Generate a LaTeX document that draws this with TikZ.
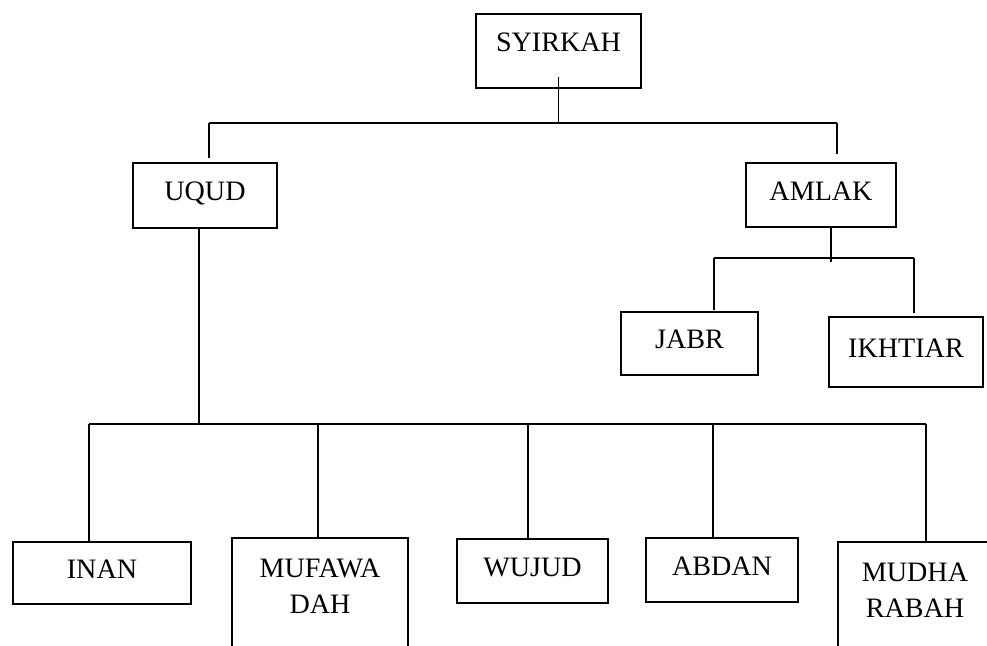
\documentclass[tikz,border=0pt]{standalone}
\usepackage{fontspec}
\setmainfont{Liberation Serif}
\usepackage{tikz}
\usetikzlibrary{positioning}

\begin{document}
\begin{tikzpicture}[
  box/.style={draw, line width=2.1pt, inner sep=2pt, outer sep=0pt, text depth=0.2cm, font=\fontsize{20pt}{25.5pt}\selectfont},
  tallbox/.style={box, align=center, inner ysep=0.525cm, text depth=1.5cm},
  link/.style={line width=0.75pt},
  stem/.style={line width=1.9pt},
]
  \clip (0,0) rectangle (24.675,-16.15);

  % Top: root
  \node[box, minimum width=4.125cm, minimum height=1.85cm, text depth=0.45cm] (syirkah) at (13.9625,-1.275) {SYIRKAH};

  % Layer 1
  \node[box, below left=1.875cm and 4.975cm of syirkah, minimum width=3.6cm, minimum height=1.625cm] (uqud) {UQUD};
  \node[box, below right=1.875cm and 2.625cm of syirkah, minimum width=3.75cm, minimum height=1.6cm] (amlak) {AMLAK};

  % Layer 2: under amlak
  \node[box, below left=2.125cm and 1.575cm of amlak.south, minimum width=3.425cm, minimum height=1.575cm] (jabr) {JABR};
  \node[box, below right=2.25cm and 0.2cm of amlak.south, minimum width=3.85cm, minimum height=1.75cm] (ikhtiar) {IKHTIAR};

  % Layer 2: under uqud
  \node[box, anchor=north, minimum width=4.45cm, minimum height=1.55cm] (inan) at (2.55,-13.55) {INAN};
  \node[tallbox, anchor=north, minimum width=4.4cm] (mufa) at (8.0,-13.45) {MUFAWA\\DAH};
  \node[box, anchor=north, minimum width=3.775cm, minimum height=1.6cm] (wujud) at (13.3125,-13.475) {WUJUD};
  \node[box, anchor=north, minimum width=3.8cm, minimum height=1.6cm] (abdan) at (18.05,-13.45) {ABDAN};
  \node[tallbox, anchor=north, minimum width=3.85cm] (mudha) at (22.875,-13.55) {MUDHA\\RABAH};

  % Bus points
  \coordinate (stemTop) at ([yshift=0.275cm]syirkah.south);
  \coordinate (topL) at (5.225,-3.075);
  \coordinate (topR) at (20.925,-3.075);
  \coordinate (amlakOut) at ([xshift=0.25cm]amlak.south);
  \coordinate (barJ) at (17.85,-6.45);
  \coordinate (barK) at (22.85,-6.45);
  \coordinate (uqudOut) at ([xshift=-0.15cm]uqud.south);
  \coordinate (businan) at (2.225,-10.6);
  \coordinate (busmufa) at (7.95,-10.6);
  \coordinate (buswujud) at (13.2,-10.6);
  \coordinate (busabdan) at (17.825,-10.6);
  \coordinate (busmudha) at (23.15,-10.6);

  % Edges from syirkah
  \draw[link] (stemTop) -- (stemTop |- topL);
  \draw[line width=1pt] (topL) -- (topR);
  \draw[stem, shorten >=0.125cm] (topL) -- (topL |- uqud.north);
  \draw[stem, shorten >=0.225cm] (topR) -- (topR |- amlak.north);

  % Edges from amlak
  \draw[link] (amlakOut) -- ([yshift=-0.1cm]amlakOut |- barJ);
  \draw[link] (barJ) -- (barK);
  \draw[link, shorten >=0.05cm] (barJ) -- (barJ |- jabr.north);
  \draw[link, shorten >=0.1cm] (barK) -- (barK |- ikhtiar.north);

  % Edges from uqud
  \draw[link] (uqudOut) -- (uqudOut |- businan);
  \draw[link] (businan) -- (busmudha);
  \foreach \n in {inan, mufa, wujud, abdan, mudha}
    \draw[link] (bus\n) -- (bus\n |- \n.north);
\end{tikzpicture}
\end{document}
